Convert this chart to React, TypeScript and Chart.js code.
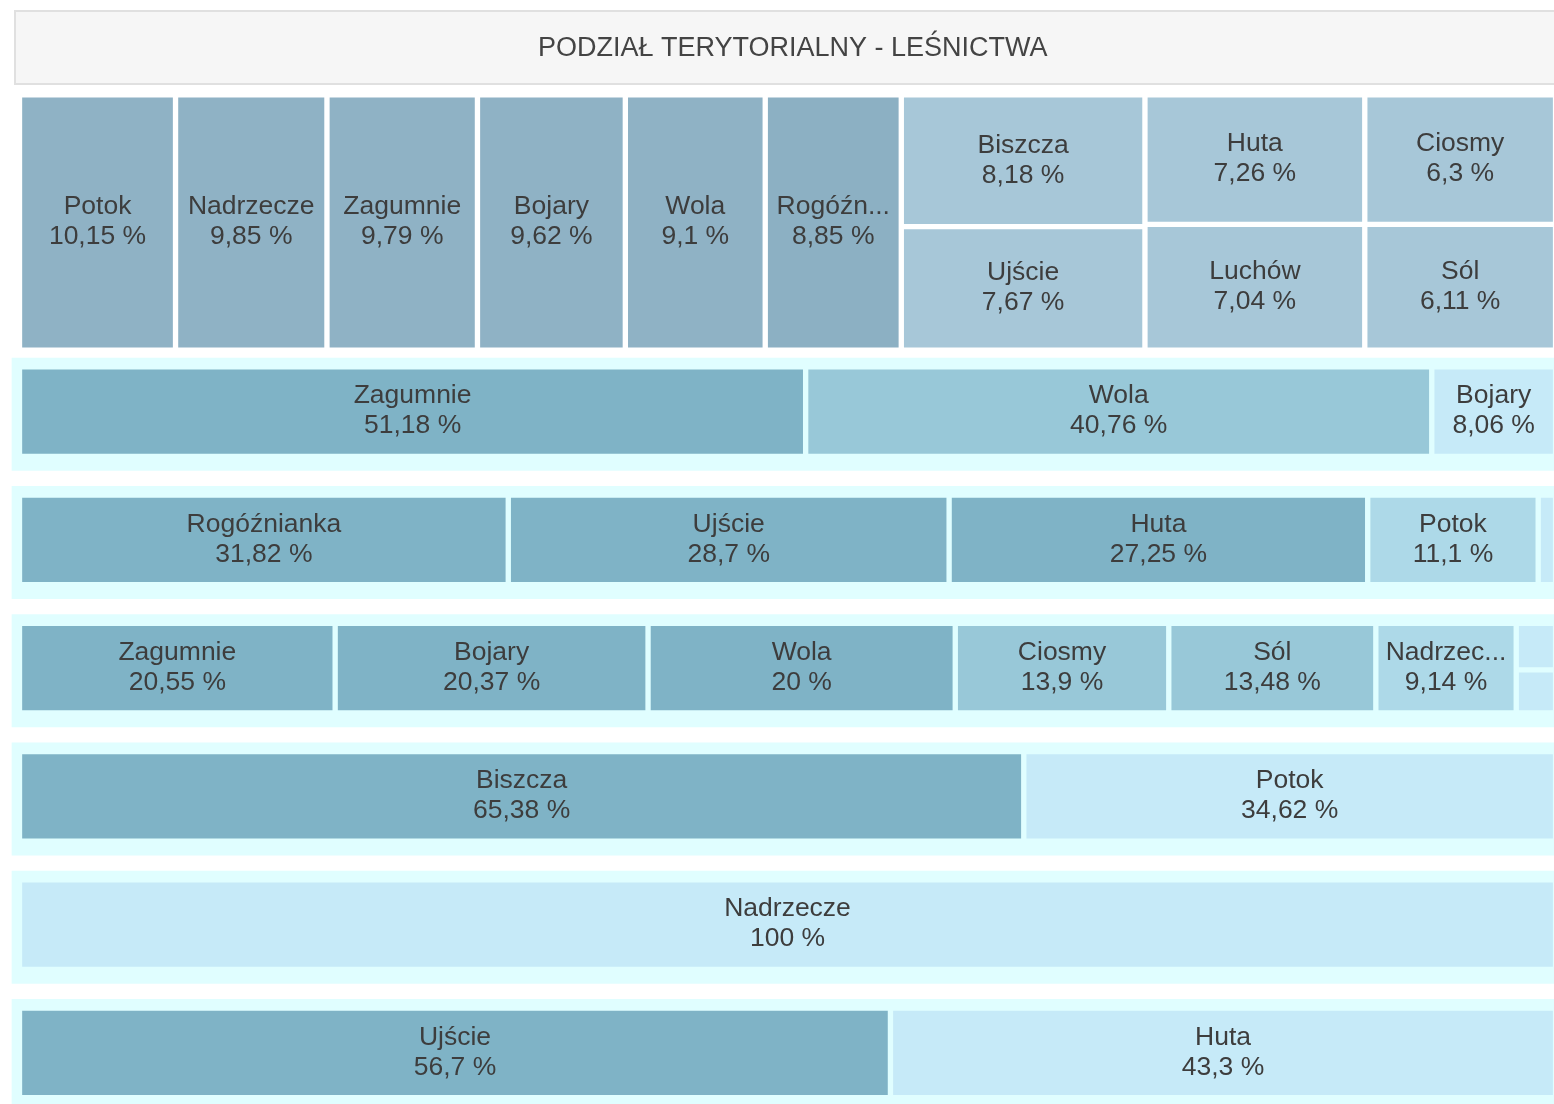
import React, { useEffect, useRef } from 'react';
import { Chart, registerables } from 'chart.js';

Chart.register(...registerables);

const FONT = "'Liberation Sans', Arial, sans-serif";
const TITLE = 'PODZIAŁ TERYTORIALNY - LEŚNICTWA';

// ---- data ----
const topNames = ['Potok', 'Nadrzecze', 'Zagumnie', 'Bojary', 'Wola', 'Rogóźnianka', 'Biszcza', 'Ujście', 'Huta', 'Luchów', 'Ciosmy', 'Sól'];
const topValues = [10.15, 9.85, 9.79, 9.62, 9.1, 8.85, 8.18, 7.67, 7.26, 7.04, 6.3, 6.11];
const topColumns = [[0], [1], [2], [3], [4], [5], [6, 7], [8, 9], [10, 11]];

const row1Names = ['Zagumnie', 'Wola', 'Bojary'];
const row1Values = [51.18, 40.76, 8.06];

const row2Names = ['Rogóźnianka', 'Ujście', 'Huta', 'Potok', ''];
const row2Values = [31.82, 28.7, 27.25, 11.1, 1.13];

const row3Names = ['Zagumnie', 'Bojary', 'Wola', 'Ciosmy', 'Sól', 'Nadrzecze', '', ''];
const row3Values = [20.55, 20.37, 20, 13.9, 13.48, 9.14, 1.33, 1.23];
const row3Columns = [[0], [1], [2], [3], [4], [5], [6, 7]];

const row4Names = ['Biszcza', 'Potok'];
const row4Values = [65.38, 34.62];

const row5Names = ['Nadrzecze'];
const row5Values = [100];

const row6Names = ['Ujście', 'Huta'];
const row6Values = [56.7, 43.3];

// ---- styles ----
const TALL = '#8fb2c5';
const SMALL = '#a7c7d8';
const DARK = '#7fb3c6';
const MID = '#98c8d8';
const LMID = '#add9e8';
const LIGHT = '#c6eaf8';
const BAND = '#e0feff';

const topColors = [TALL, TALL, TALL, TALL, TALL, '#8cb0c3', SMALL, SMALL, SMALL, SMALL, SMALL, SMALL];
const row1Colors = [DARK, MID, LIGHT];
const row2Colors = [DARK, DARK, DARK, LMID, LIGHT];
const row3Colors = [DARK, DARK, DARK, MID, MID, LMID, LIGHT, LIGHT];
const row4Colors = [DARK, LIGHT];
const row5Colors = [LIGHT];
const row6Colors = [DARK, LIGHT];

// ---- layout ----
const CANVAS_W = 1566;
const CANVAS_H = 1117;
const TITLE_SIZE = 27;
const LABEL_SIZE = 26.5;
const TITLE_PAD_TOP = 32.3;
const TITLE_PAD_BOTTOM = 26.3;
const AREA_TOP = TITLE_PAD_TOP + TITLE_SIZE * 1.2 + TITLE_PAD_BOTTOM;
const Y_MIN = -2.5;
const Y_MAX = 5.5;
const PX_PER_UNIT = (CANVAS_H - AREA_TOP) / (Y_MAX - Y_MIN);
const X_MAX = 100.68;
const GAP = 3;
const BAND_X = [-0.49, 101];
const ROW_HALF = 0.35;
const BAND_OFFSET = 0.02;
const BAND_HALF = 0.4375;

const single = (n: string[]) => n.map((_, i) => [i]);

const groups = [
  { names: topNames, values: topValues, columns: topColumns, colors: topColors, y0: -2.47, y1: -0.48, band: false },
  { names: row1Names, values: row1Values, columns: single(row1Names), colors: row1Colors, row: 0, band: true },
  { names: row2Names, values: row2Values, columns: single(row2Names), colors: row2Colors, row: 1, band: true },
  { names: row3Names, values: row3Values, columns: row3Columns, colors: row3Colors, row: 2, band: true },
  { names: row4Names, values: row4Values, columns: single(row4Names), colors: row4Colors, row: 3, band: true },
  { names: row5Names, values: row5Values, columns: single(row5Names), colors: row5Colors, row: 4, band: true },
  { names: row6Names, values: row6Values, columns: single(row6Names), colors: row6Colors, row: 5, band: true },
];

function buildDatasets() {
  const ds: any[] = [];
  groups.forEach((g: any) => {
    const y0 = g.band ? g.row - ROW_HALF : g.y0;
    const y1 = g.band ? g.row + ROW_HALF : g.y1;
    if (g.band) {
      const bc = g.row + BAND_OFFSET;
      ds.push({
        data: [{ x: BAND_X, y: bc }],
        barThickness: BAND_HALF * 2 * PX_PER_UNIT,
        backgroundColor: BAND,
        borderWidth: 0,
        grouped: false,
        order: 5,
        clip: false,
      });
    }
    const total = g.values.reduce((a: number, b: number) => a + b, 0);
    let xc = 0;
    g.columns.forEach((col: number[]) => {
      const colSum = col.reduce((a, i) => a + g.values[i], 0);
      const x0 = xc;
      const x1 = xc + (colSum / total) * 100;
      xc = x1;
      let yc = y0;
      col.forEach((i) => {
        const h = (g.values[i] / colSum) * (y1 - y0);
        ds.push({
          data: [{ x: [x0, x1], y: yc + h / 2 }],
          barThickness: h * PX_PER_UNIT,
          backgroundColor: g.colors[i],
          borderColor: 'rgba(0,0,0,0)',
          borderWidth: GAP,
          borderSkipped: false,
          grouped: false,
          order: 1,
          clip: false,
          cellName: g.names[i],
          cellValue: g.values[i],
        });
        yc += h;
      });
    });
  });
  return ds;
}

const fmt = (v: number) => String(v).replace('.', ',') + ' %';

function fitText(ctx: CanvasRenderingContext2D, text: string, max: number) {
  if (ctx.measureText(text).width <= max) return text;
  for (let n = text.length - 1; n > 0; n--) {
    const t = text.slice(0, n) + '...';
    if (ctx.measureText(t).width <= max) return t;
  }
  return '';
}

const titleBox = {
  id: 'titleBox',
  beforeDraw(chart: any) {
    const ctx = chart.ctx;
    ctx.save();
    ctx.fillStyle = '#f6f6f6';
    ctx.fillRect(14, 10, chart.width, 75);
    ctx.strokeStyle = '#e0e0e0';
    ctx.lineWidth = 2;
    ctx.strokeRect(15, 11, chart.width, 73);
    ctx.restore();
  },
};

const cellLabels = {
  id: 'cellLabels',
  afterDatasetsDraw(chart: any) {
    const ctx = chart.ctx;
    ctx.save();
    ctx.font = `${LABEL_SIZE}px ${FONT}`;
    ctx.fillStyle = '#3d3d3d';
    ctx.textAlign = 'center';
    ctx.textBaseline = 'middle';
    chart.data.datasets.forEach((d: any, i: number) => {
      if (!d.cellName) return;
      const el = chart.getDatasetMeta(i).data[0];
      if (!el) return;
      const { x, y, base, height } = el.getProps(['x', 'y', 'base', 'height'], true);
      const left = Math.min(x, base);
      const right = Math.max(x, base);
      const w = right - left - 2 * GAP;
      const h = height - 2 * GAP;
      if (w < 40 || h < 62) return;
      const cx = (left + right) / 2;
      const name = fitText(ctx, d.cellName, w - 12);
      ctx.fillText(name, cx, y - 15.5);
      ctx.fillText(fmt(d.cellValue), cx, y + 14.5);
    });
    ctx.restore();
  },
};

export default function App() {
  const ref = useRef<HTMLCanvasElement>(null);
  useEffect(() => {
    document.body.style.margin = '0';
    Chart.defaults.font.family = FONT;
    const chart = new Chart(ref.current as HTMLCanvasElement, {
      type: 'bar',
      data: { datasets: buildDatasets() },
      options: {
        animation: false,
        responsive: false,
        indexAxis: 'y',
        layout: { padding: { left: 19.5, right: 0, top: 0, bottom: 0 } },
        scales: {
          x: { type: 'linear', min: 0, max: X_MAX, display: false, offset: false, grace: 0 },
          y: { type: 'linear', min: Y_MIN, max: Y_MAX, reverse: true, display: false, offset: false, grace: 0 },
        },
        plugins: {
          legend: { display: false },
          tooltip: { enabled: false },
          title: {
            display: true,
            text: TITLE,
            color: '#444',
            font: { size: TITLE_SIZE, family: FONT, weight: 'normal', lineHeight: 1.2 },
            padding: { top: TITLE_PAD_TOP, bottom: TITLE_PAD_BOTTOM },
          },
        },
      } as any,
      plugins: [titleBox, cellLabels],
    });
    return () => chart.destroy();
  }, []);
  return (
    <div style={{ width: 1554, height: 1104, overflow: 'hidden', position: 'relative', background: '#fff' }}>
      <canvas ref={ref} width={CANVAS_W} height={CANVAS_H} style={{ display: 'block' }} />
    </div>
  );
}
